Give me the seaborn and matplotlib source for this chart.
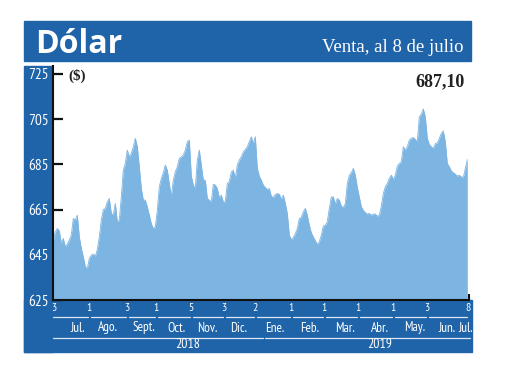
import numpy as np
import pandas as pd
import seaborn as sns
import matplotlib
matplotlib.use("Agg")
import matplotlib.pyplot as plt
from matplotlib import font_manager as fm, transforms
from matplotlib.patches import Rectangle

# ---------------- data (trading-day series) ----------------
values = [
    651.5, 655.2, 656.6, 655.6, 650.0, 652.2, 648.5, 649.7, 651.5, 653.7,
    661.1, 660.3, 662.5, 652.9, 647.8, 644.1, 639.7, 638.9, 643.4, 644.8,
    645.3, 644.4, 647.3, 652.9, 660.3, 665.0, 665.5, 668.4, 669.9, 663.3,
    662.5, 667.7, 659.6, 660.3, 670.6, 682.4, 685.4, 691.3, 688.3, 689.8,
    692.8, 696.5, 692.8, 683.9, 674.3, 669.2, 669.2, 666.2, 662.5, 658.8,
    656.6, 657.4, 664.7, 675.1, 678.8, 681.3, 684.7, 682.4, 676.5, 670.6,
    678.0, 681.7, 683.9, 687.6, 688.3, 689.1, 691.3, 695.0, 695.7, 679.8,
    675.8, 674.3, 686.9, 691.3, 684.7, 678.0, 678.0, 669.9, 669.2, 668.4,
    676.2, 675.8, 674.3, 670.3, 671.4, 668.4, 668.4, 676.5, 677.3, 681.7,
    682.4, 678.8, 684.7, 686.9, 688.3, 690.5, 691.6, 692.8, 695.0, 697.2,
    694.2, 697.2, 683.2, 679.8, 678.0, 675.8, 674.8, 673.9, 674.3,
    670.9, 670.3, 671.7, 672.1, 671.8, 669.5, 671.4, 667.7, 663.3, 653.7,
    651.8, 652.6, 654.4, 656.6, 661.1, 661.5, 664.0, 665.5, 662.5, 658.1,
    654.7, 652.9, 651.2, 649.7, 650.7, 653.7, 657.7, 658.1, 659.6, 665.5,
    670.6, 670.6, 667.4, 669.9, 669.2, 666.5, 665.9, 667.7, 676.5, 680.2,
    681.3, 683.2, 680.2, 674.8, 670.6, 666.2, 664.7, 663.6, 663.0, 663.3,
    662.5, 663.0, 663.0, 662.1, 662.5, 666.5, 672.1, 675.1, 676.5, 678.8,
    680.2, 678.3, 680.2, 684.2, 685.4, 686.1, 692.8, 691.3, 692.8, 695.7,
    696.5, 696.9, 696.0, 695.0, 706.0, 707.2, 709.5, 706.0, 696.5, 693.8,
    692.8, 692.0, 694.2, 694.5, 696.5, 698.7, 699.8, 695.0, 685.4, 683.9,
    682.1, 681.3, 680.7, 679.8, 680.2, 679.5, 679.2, 683.2, 687.1,
]
tick_pos = [0, 17.4, 36.4, 50.9, 68.4, 84.9, 100.4, 118.4, 134.9, 151.9, 169.4, 186.4, 207]
tick_days = ["3", "1", "3", "1", "5", "3", "2", "1", "1", "1", "1", "3", "8"]
months = ["Jul.", "Ago.", "Sept.", "Oct.", "Nov.", "Dic.", "Ene.", "Feb.",
          "Mar.", "Abr.", "May.", "Jun.", "Jul."]
years = ["2018", "2019"]
y_ticks = [625, 645, 665, 685, 705, 725]
title = "Dólar"
subtitle = "Venta, al 8 de julio"
unit = "($)"
last_label = "687,10"

# layout (label centres, in trading-day units)
month_x = [11.9, 27.4, 45.4, 61.4, 76.9, 92.9, 110.9, 128.4, 145.9, 163.4, 180.9, 196.7, 206.0]
year_x = [67.3, 163.4]

df = pd.DataFrame({"dia": np.arange(len(values)), "valor": values})

# ---------------- style ----------------
sns.set_theme(style="white")
BLUE = "#1f63a8"
FILL = "#7cb4e2"
W, H = 520, 390

names = {f.name for f in fm.fontManager.ttflist}


def pick(options, default):
    for o in options:
        if o in names:
            return o
    return default


cond = pick(["PT Sans Narrow", "Fira Sans Condensed", "Archivo Narrow", "Roboto Condensed",
             "Asap Condensed", "Liberation Sans Narrow"], "DejaVu Sans")
serif = pick(["Liberation Serif"], "DejaVu Serif")
titlefont = pick(["Open Sans", "Lato"], "DejaVu Sans")
plt.rcParams["font.family"] = [cond, "DejaVu Sans"]

fig = plt.figure(figsize=(W / 100, H / 100), dpi=100)
fig.patch.set_facecolor("white")


def fx(px):
    return px / W


def fy(py):
    return 1 - py / H


def band(x0, y0, x1, y1):
    fig.patches.append(Rectangle((fx(x0), fy(y1)), fx(x1) - fx(x0), fy(y0) - fy(y1),
                                 transform=fig.transFigure, color=BLUE, zorder=-5))


band(24, 21, 471, 61)     # title bar
band(24, 66, 53, 352)     # left strip
band(24, 300, 472, 352)   # bottom strip

ax = fig.add_axes([fx(53), fy(300), fx(469) - fx(53), fy(66) - fy(300)])
ax.set_facecolor("white")
ax.fill_between(df["dia"], df["valor"], 625, color=FILL, lw=0, zorder=2)
sns.lineplot(data=df, x="dia", y="valor", ax=ax, color=FILL, lw=0.6, zorder=2)
ax.set_xlim(-0.15, 207.85)
ax.set_ylim(625, 728.5)
ax.set_xlabel("")
ax.set_ylabel("")
for s in ["top", "right"]:
    ax.spines[s].set_visible(False)
for s in ["left", "bottom"]:
    ax.spines[s].set_color("#111111")
    ax.spines[s].set_linewidth(1.5)
    ax.spines[s].set_zorder(5)
ax.set_yticks(y_ticks)
ax.set_yticklabels([str(v) for v in y_ticks])
ax.tick_params(axis="y", direction="in", length=7, width=1.6, color="#111111",
               labelcolor="white", labelsize=11, pad=3, left=True)
for lbl in ax.get_yticklabels():
    lbl.set_fontfamily(cond)
ax.set_xticks([207.85])
ax.set_xticklabels([""])
ax.tick_params(axis="x", direction="in", length=4, width=1.5, color="#111111", bottom=True)

# ---------------- bottom date labels ----------------
tr = transforms.blended_transform_factory(ax.transData, fig.transFigure)
for p, d in zip(tick_pos, tick_days):
    ax.text(p + 0.4, fy(308.3), d, transform=tr, ha="center", va="center",
            color="white", fontsize=8.5, family=cond, clip_on=False)
for i in range(len(tick_pos) - 1):
    x0 = tick_pos[i] + (0 if i == 0 else 1.2)
    ax.plot([x0, tick_pos[i + 1]], [fy(316.7)] * 2, transform=tr, color="#dce8f5",
            lw=0.9, clip_on=False)
for xm, m in zip(month_x, months):
    ax.text(xm, fy(328), m, transform=tr, ha="center", va="center",
            color="white", fontsize=9.5, family=cond, clip_on=False)
yb = tick_pos[6] + 5
ax.plot([tick_pos[0] - 0.15, yb - 0.5], [fy(337.7)] * 2, transform=tr, color="#dce8f5",
        lw=0.9, clip_on=False)
ax.plot([yb + 0.5, tick_pos[-1] + 1.2], [fy(337.7)] * 2, transform=tr, color="#dce8f5",
        lw=0.9, clip_on=False)
for xl, yr in zip(year_x, years):
    ax.text(xl, fy(344.5), yr, transform=tr, ha="center", va="center",
            color="white", fontsize=10, family=cond, clip_on=False)

# ---------------- titles ----------------
fig.text(fx(35), fy(53.3), title, color="white", fontsize=23, fontweight="bold",
         family=titlefont, va="baseline", ha="left")
fig.text(fx(463), fy(51.7), subtitle, color="white", fontsize=13.5,
         family=serif, va="baseline", ha="right")
fig.text(fx(465), fy(86), last_label, color="#222222", fontsize=13, fontweight="bold",
         family=serif, va="baseline", ha="right")
fig.text(fx(68), fy(80), unit, color="#222222", fontsize=11, fontweight="bold",
         family=serif, va="baseline", ha="left")

fig.savefig("out.png", dpi=100)
